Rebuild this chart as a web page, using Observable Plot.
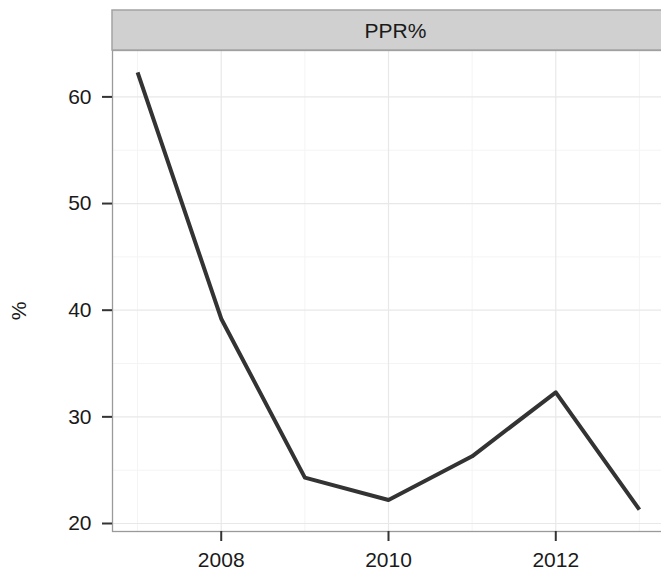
<!DOCTYPE html>
<html>
<head>
<meta charset="utf-8">
<script src="https://cdn.jsdelivr.net/npm/d3@7"></script>
<script src="https://cdn.jsdelivr.net/npm/@observablehq/plot@0.6"></script>
<style>
  html, body { margin: 0; padding: 0; background: #fff; }
  svg { display: block; }
</style>
</head>
<body>
<div id="chart"></div>
<script>
const years = [2007, 2008, 2009, 2010, 2011, 2012, 2013];
const ppr = [62.3, 39.2, 24.3, 22.2, 26.3, 32.3, 21.3];
const xMajor = [2008, 2010, 2012];
const xMinor = [2007, 2009, 2011, 2013];
const yMajor = [20, 30, 40, 50, 60];
const yMinor = [25, 35, 45, 55];
const stripLabel = "PPR%";
const yTitle = "%";

const data = years.map((year, i) => ({year, value: ppr[i]}));

const font = "'Liberation Sans', Arial, Helvetica, sans-serif";
const W = 661, H = 570;
const mL = 112, mR = -3, mT = 50, mB = 39;

const xExt = d3.extent(years), yExt = d3.extent(ppr);
const xPad = (xExt[1] - xExt[0]) * 0.05, yPad = (yExt[1] - yExt[0]) * 0.05;

const chart = Plot.plot({
  width: W,
  height: H,
  marginLeft: mL,
  marginRight: mR,
  marginTop: mT,
  marginBottom: mB,
  style: {fontFamily: font, fontSize: "21px", color: "#1a1a1a", background: "#fff", overflow: "hidden"},
  x: {domain: [xExt[0] - xPad, xExt[1] + xPad]},
  y: {domain: [yExt[0] - yPad, yExt[1] + yPad]},
  marks: [
    Plot.gridX(xMinor, {stroke: "#f4f4f4", strokeOpacity: 1, strokeWidth: 1}),
    Plot.gridY(yMinor, {stroke: "#f4f4f4", strokeOpacity: 1, strokeWidth: 1}),
    Plot.gridX(xMajor, {stroke: "#e8e8e8", strokeOpacity: 1, strokeWidth: 1.2}),
    Plot.gridY(yMajor, {stroke: "#e8e8e8", strokeOpacity: 1, strokeWidth: 1.2}),
    Plot.line(data, {x: "year", y: "value", stroke: "#333333", strokeWidth: 4, strokeLinecap: "butt", strokeLinejoin: "round"}),
    Plot.frame({stroke: "#9a9a9a", strokeWidth: 1.3}),
    Plot.axisX(xMajor, {tickSize: 10, tickPadding: 11, stroke: "#333", strokeWidth: 2, tickFormat: d => String(d), fontSize: 21, fill: "#1a1a1a", label: null}),
    Plot.axisY(yMajor, {tickSize: 10, tickPadding: 11, stroke: "#333", strokeWidth: 2, fontSize: 21, fill: "#1a1a1a", label: null})
  ]
});

// facet strip (ggplot-style) and y title
const svg = d3.select(chart);
const xr = chart.scale("x").range;
const strip = svg.append("g");
strip.append("rect")
  .attr("x", xr[0]).attr("y", 10)
  .attr("width", xr[1] - xr[0]).attr("height", mT - 10)
  .attr("fill", "#d0d0d0").attr("stroke", "#a3a3a3").attr("stroke-width", 1.5);
strip.append("text")
  .attr("x", 395.5).attr("y", 30.5).attr("dy", "0.35em")
  .attr("text-anchor", "middle")
  .attr("font-family", font).attr("font-size", 21).attr("fill", "#1a1a1a")
  .text(stripLabel);
svg.append("text")
  .attr("transform", "translate(19,311) rotate(-90)")
  .attr("dy", "0.35em")
  .attr("text-anchor", "middle")
  .attr("font-family", font).attr("font-size", 21).attr("fill", "#1a1a1a")
  .text(yTitle);

document.getElementById("chart").appendChild(chart);
</script>
</body>
</html>
